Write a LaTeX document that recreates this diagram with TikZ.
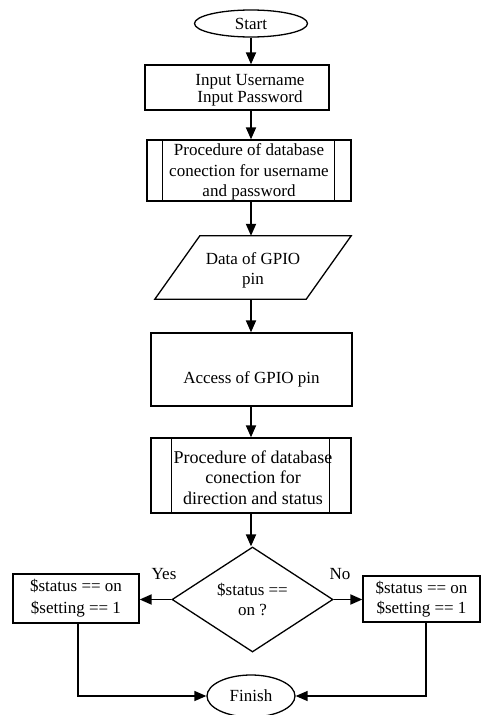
\documentclass[tikz,border=0pt]{standalone}
\usepackage{fontspec}
\setmainfont{Liberation Serif}
\usetikzlibrary{shapes.geometric,arrows.meta}
\begin{document}
\begin{tikzpicture}[x=1pt,y=-1pt,
  every node/.style={font=\fontsize{17}{20.5}\selectfont, inner sep=0pt, align=center},
  box/.style={draw, line width=1.3pt, rectangle},
  term/.style={draw, line width=1.3pt, ellipse},
  shapeline/.style={line width=1.3pt},
  arr/.style={line width=1.9pt, -{Triangle[length=12pt,width=10pt]}},
  thinarr/.style={line width=1.4pt, -{Triangle[length=12pt,width=10pt]}}
]
\useasboundingbox (0,0) rectangle (481,715);

% nodes
\node[term, minimum width=113, minimum height=27] (start) at (251,23.5) {Start};

\node[box, minimum width=184, minimum height=45] (b1) at (237,87.5) {};
\node[font=\fontsize{17}{17.5}\selectfont] (t1) at (250,90) {Input Username\\Input Password};

\node[box, minimum width=204, minimum height=61] (p1) at (249,170.5) {};
\draw[shapeline] ([xshift=16pt]p1.north west) -- ([xshift=16pt]p1.south west);
\draw[shapeline] ([xshift=-17pt]p1.north east) -- ([xshift=-17pt]p1.south east);
\node (t2) at (249,172) {Procedure of database\\conection for username\\and password};

\node[minimum width=151, minimum height=63] (para) at (253,267.5) {};
\draw[shapeline] ([xshift=-22.5pt]para.south west) -- ([xshift=22.5pt]para.north west)
  -- ([xshift=22.5pt]para.north east) -- ([xshift=-22.5pt]para.south east) -- cycle;
\node[font=\fontsize{17}{20}\selectfont] (t3) at (253,270) {Data of GPIO\\pin};

\node[box, minimum width=201, minimum height=73] (acc) at (251.5,369.5) {};
\node (t4) at (251.5,379) {Access of GPIO pin};

\node[box, minimum width=200, minimum height=75] (p2) at (251,475.5) {};
\draw[shapeline] ([xshift=21pt]p2.north west) -- ([xshift=21pt]p2.south west);
\draw[shapeline] ([xshift=-22pt]p2.north east) -- ([xshift=-22pt]p2.south east);
\node[font=\fontsize{18}{20.5}\selectfont] (t5) at (253,477.5) {Procedure of database\\conection for\\direction and status};

\node[draw, diamond, line width=1.3pt, aspect=1.53, minimum width=161, minimum height=105] (dia) at (252.5,599.5) {\$status ==\\on ?};

\node[box, minimum width=126, minimum height=49, font=\fontsize{17}{22}\selectfont] (lbox) at (76,598.5) {\$status == on\\\$setting == 1};
\node[box, minimum width=117, minimum height=46, font=\fontsize{17}{20}\selectfont] (rbox) at (421.5,599) {\$status == on\\\$setting == 1};

\node (yes) at (164,574) {Yes};
\node (no) at (340,574) {No};

\node[term, minimum width=88, minimum height=42] (fin) at (251,696) {Finish};

% connectors
\draw[arr] (start.south) -- (start.south |- b1.north);
\draw[arr] (b1.south -| start) -- (p1.north -| start);
\draw[arr] (p1.south -| start) -- (para.north -| start);
\draw[arr] (para.south -| start) -- (acc.north -| start);
\draw[arr] (acc.south -| start) -- (p2.north -| start);
\draw[arr] (p2.south -| start) -- (dia.north -| start);
\draw[arr] (dia.west) -- (dia.west -| lbox.east);
\draw[arr] (dia.east) -- (dia.east -| rbox.west);
\draw[thinarr] ([xshift=2pt]lbox.south) |- (fin.west);
\draw[thinarr] ([xshift=4.5pt]rbox.south) |- (fin.east);
\end{tikzpicture}
\end{document}
